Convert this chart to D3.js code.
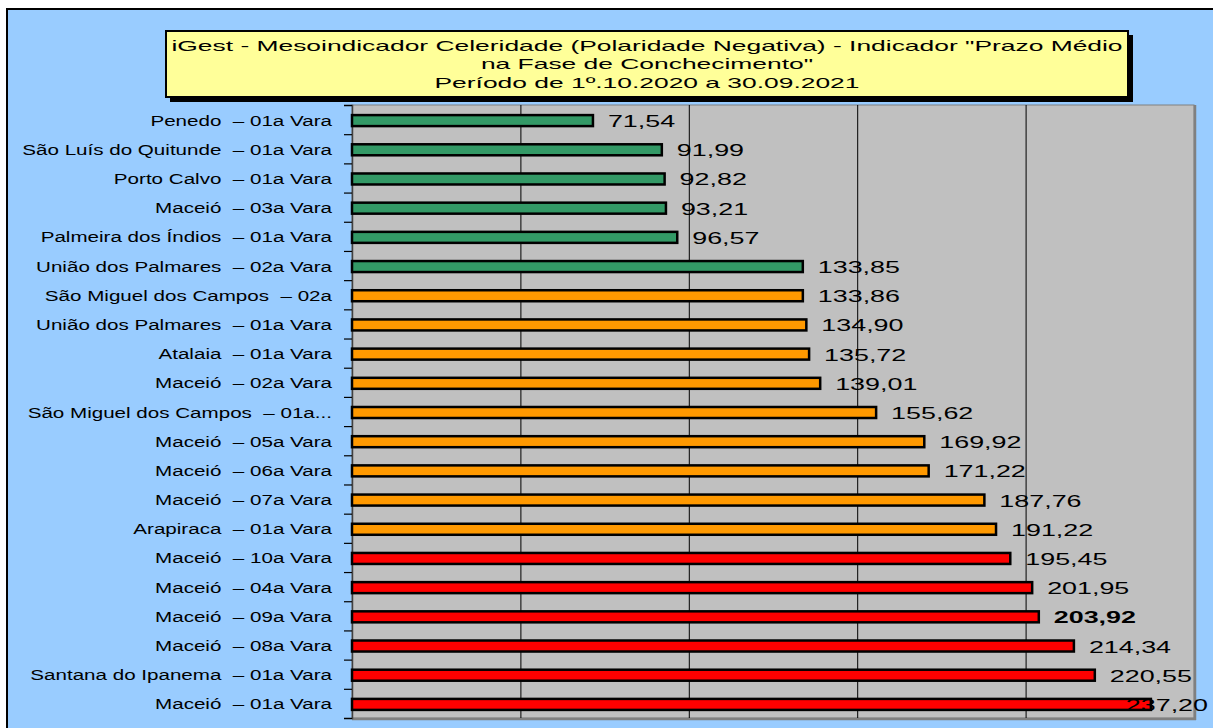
<!DOCTYPE html>
<html><head><meta charset="utf-8">
<script src="https://cdn.jsdelivr.net/npm/d3@7/dist/d3.min.js"></script>
<style>
html,body{margin:0;padding:0;background:#fff;}
svg{display:block;}
text{font-family:"Liberation Sans",Arial,sans-serif;white-space:pre;}
</style></head>
<body>
<svg id="chart" width="1213" height="728"></svg>
<script>
// ---- data ----
const titleLines = [
  "iGest - Mesoindicador Celeridade (Polaridade Negativa) - Indicador \"Prazo Médio",
  "na Fase de Conchecimento\"",
  "Período de 1º.10.2020 a 30.09.2021"
];
const categories = [
  "Penedo  – 01a Vara",
  "São Luís do Quitunde  – 01a Vara",
  "Porto Calvo  – 01a Vara",
  "Maceió  – 03a Vara",
  "Palmeira dos Índios  – 01a Vara",
  "União dos Palmares  – 02a Vara",
  "São Miguel dos Campos  – 02a",
  "União dos Palmares  – 01a Vara",
  "Atalaia  – 01a Vara",
  "Maceió  – 02a Vara",
  "São Miguel dos Campos  – 01a...",
  "Maceió  – 05a Vara",
  "Maceió  – 06a Vara",
  "Maceió  – 07a Vara",
  "Arapiraca  – 01a Vara",
  "Maceió  – 10a Vara",
  "Maceió  – 04a Vara",
  "Maceió  – 09a Vara",
  "Maceió  – 08a Vara",
  "Santana do Ipanema  – 01a Vara",
  "Maceió  – 01a Vara"
];
const values = [71.54, 91.99, 92.82, 93.21, 96.57, 133.85, 133.86, 134.90, 135.72, 139.01,
  155.62, 169.92, 171.22, 187.76, 191.22, 195.45, 201.95, 203.92, 214.34, 220.55, 237.20];
const groups = ["verde","verde","verde","verde","verde","verde",
  "laranja","laranja","laranja","laranja","laranja","laranja","laranja","laranja","laranja",
  "vermelho","vermelho","vermelho","vermelho","vermelho","vermelho"];
const groupNames = ["verde","laranja","vermelho"];
const groupColors = ["#339966","#FF9900","#FF0000"];
const boldLabels = ["203,92"];
const xDomain = [0, 250];
const gridTicks = [50, 100, 150, 200];

// ---- layout ----
const svg = d3.select("#chart");
const W = 1213, H = 728;
const plot = {left: 352, top: 105, right: 1194, bottom: 718};
const fmt = v => d3.format(".2f")(v).replace(".", ",");

function stretch(sel, factor, anchor) {
  sel.each(function() {
    const t = d3.select(this);
    const w = this.getComputedTextLength();
    const tw = w * factor;
    const x0 = +t.attr("x");
    let nx = x0;
    if (anchor === "end") nx = x0 - tw;
    else if (anchor === "middle") nx = x0 - tw / 2;
    t.attr("text-anchor", "start").attr("x", nx)
     .attr("textLength", tw).attr("lengthAdjust", "spacingAndGlyphs");
    this.__tw = tw;
  });
}

// background
svg.append("rect").attr("x", 0).attr("y", 0).attr("width", W).attr("height", H).attr("fill", "#fff");
svg.append("rect").attr("x", 7).attr("y", 9).attr("width", W + 10).attr("height", H + 10)
  .attr("fill", "#99CCFF").attr("stroke", "#000").attr("stroke-width", 2);

// title box
svg.append("rect").attr("x", 170).attr("y", 35).attr("width", 963).attr("height", 67).attr("fill", "#000");
svg.append("rect").attr("x", 166).attr("y", 31).attr("width", 962).attr("height", 66)
  .attr("fill", "#FFFF99").attr("stroke", "#000").attr("stroke-width", 2);
const titleY = [51, 69, 88];
svg.selectAll("text.title").data(titleLines).join("text").attr("class", "title")
  .attr("x", 647).attr("y", (d, i) => titleY[i])
  .attr("font-size", 14.5).attr("fill", "#000")
  .text(d => d)
  .call(stretch, 1.82, "middle");

// scales
const x = d3.scaleLinear().domain(xDomain).range([plot.left, plot.right]);
const y = d3.scaleBand().domain(categories).range([plot.top, plot.bottom]).paddingInner(0).paddingOuter(0);
const color = d3.scaleOrdinal().domain(groupNames).range(groupColors);
const yEdge = d3.scaleLinear().domain([0, categories.length]).range([plot.top, plot.bottom]);

// plot area
svg.append("rect").attr("x", plot.left).attr("y", plot.top)
  .attr("width", plot.right - plot.left).attr("height", plot.bottom - plot.top)
  .attr("fill", "#C0C0C0").attr("stroke", "#808080").attr("stroke-width", 1);
svg.append("line").attr("x1", plot.right + 1).attr("x2", plot.right + 1)
  .attr("y1", plot.top).attr("y2", plot.bottom + 2).attr("stroke", "#808080").attr("stroke-width", 2.5);
svg.append("line").attr("x1", plot.left).attr("x2", plot.right + 2)
  .attr("y1", plot.bottom + 1).attr("y2", plot.bottom + 1).attr("stroke", "#808080").attr("stroke-width", 2.5);

// gridlines
const grid = svg.append("g").attr("transform", `translate(0,${plot.bottom})`)
  .call(d3.axisBottom(x).tickValues(gridTicks).tickSize(-(plot.bottom - plot.top)).tickFormat(""));
grid.select(".domain").remove();
grid.selectAll(".tick line").attr("stroke", "#000").attr("stroke-width", 1);

// left axis with ticks at category boundaries
const la = svg.append("g").attr("transform", `translate(${plot.left},0)`)
  .call(d3.axisLeft(yEdge).tickValues(d3.range(0, categories.length + 1)).tickSize(8).tickFormat(""));
la.select(".domain").attr("stroke", "#404040").attr("stroke-width", 1.5);
la.selectAll(".tick line").attr("stroke", "#000").attr("stroke-width", 1.2);

// bars
const barH = 11;
const cy = d => y(d) + y.bandwidth() / 2 + 1;
svg.append("g").selectAll("rect").data(categories).join("rect")
  .attr("x", x(0)).attr("y", d => cy(d) - barH / 2)
  .attr("width", (d, i) => x(values[i]) - x(0)).attr("height", barH)
  .attr("fill", (d, i) => color(groups[i])).attr("stroke", "#000").attr("stroke-width", 2.5);

// category labels
svg.append("g").selectAll("text").data(categories).join("text")
  .attr("x", 332).attr("y", d => cy(d) + 5)
  .attr("font-size", 14).attr("fill", "#000")
  .text(d => d)
  .call(stretch, 1.47, "end");

// value labels
svg.append("g").selectAll("text").data(categories).join("text")
  .attr("x", (d, i) => x(values[i]) + 15).attr("y", d => cy(d) + 6.5)
  .attr("font-size", 17).attr("fill", "#000")
  .attr("font-weight", (d, i) => boldLabels.includes(fmt(values[i])) ? "bold" : "normal")
  .text((d, i) => fmt(values[i]))
  .call(stretch, 1.58, "start")
  .each(function() {
    const t = d3.select(this);
    const xs = +t.attr("x");
    if (xs + this.__tw > 1208) t.attr("x", 1208 - this.__tw);
  });
</script>
</body></html>
